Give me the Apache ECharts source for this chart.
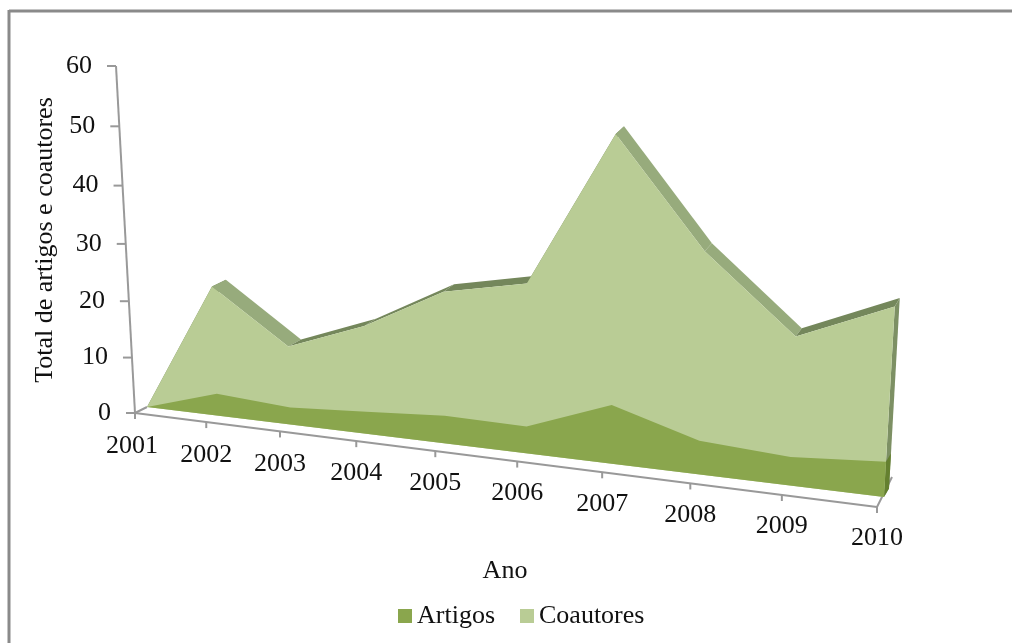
<!DOCTYPE html>
<html><head><meta charset="utf-8">
<style>html,body{margin:0;padding:0;background:#fff}#c{width:1012px;height:643px}</style>
<script src="https://cdn.jsdelivr.net/npm/echarts@6/dist/echarts.min.js"></script>
</head><body><div id="c"></div>
<script>
const years = ['2001','2002','2003','2004','2005','2006','2007','2008','2009','2010'];
const artigos = [0,3.9,3,3.8,4.7,4.5,9.6,5.4,4.5,5.5];
const coautores = [0,22.7,13.6,18.4,25.3,27.8,51.8,35,23.2,29];
const valueTicks = [0,10,20,30,40,50,60];

const QUAD = {A:[147,407],B:[884,497],C:[907,90],D:[128,60]};
const FONT = '"Liberation Serif","Times New Roman",serif';
const H = (function(){
  const [x0,y0]=QUAD.A,[x1,y1]=QUAD.B,[x2,y2]=QUAD.C,[x3,y3]=QUAD.D;
  const dx1=x1-x2,dx2=x3-x2,dx3=x0-x1+x2-x3,dy1=y1-y2,dy2=y3-y2,dy3=y0-y1+y2-y3;
  const den=dx1*dy2-dx2*dy1;
  const g=(dx3*dy2-dx2*dy3)/den,h=(dx1*dy3-dx3*dy1)/den;
  return {a:x1-x0+g*x1,b:x3-x0+h*x3,c:x0,d:y1-y0+g*y1,e:y3-y0+h*y3,f:y0,g,h};
})();
function depth(u,d){
  if(d>=0) return [(15-10*u)*d,-(6.5+2*u)*d];
  return [(12-5*u)*d,(6+4*u)*(-d)];
}
function proj(api,params,i,v,d){
  const cs=params.coordSys, p=api.coord([i,v]);
  const u=(p[0]-cs.x)/cs.width, w=(cs.y+cs.height-p[1])/cs.height;
  const q=H.g*u+H.h*w+1;
  const o=depth(u,d||0);
  return [(H.a*u+H.b*w+H.c)/q+o[0],(H.d*u+H.e*w+H.f)/q+o[1]];
}
function areaRenderer(values,faceColor,downColor,upColor,sideColor){
  return function(params,api){
    if(params.dataIndex!==0) return null;
    const kids=[], n=values.length;
    const F=(i,v)=>proj(api,params,i,v,0), B=(i,v)=>proj(api,params,i,v,1);
    for(let i=0;i<n-1;i++){
      const rising=values[i+1]>values[i];
      kids.push({type:'polygon',shape:{points:[F(i,values[i]),B(i,values[i]),B(i+1,values[i+1]),F(i+1,values[i+1])]},
        style:{fill:rising?upColor:downColor}});
    }
    kids.push({type:'polygon',shape:{points:[F(n-1,0),F(n-1,values[n-1]),B(n-1,values[n-1]),B(n-1,0)]},style:{fill:sideColor}});
    const pts=[F(0,0)];
    for(let i=0;i<n;i++) pts.push(F(i,values[i]));
    pts.push(F(n-1,0));
    kids.push({type:'polygon',shape:{points:pts},style:{fill:faceColor}});
    return {type:'group',children:kids};
  };
}
const AXIS='#999999';
function frameRenderer(params,api){
  if(params.dataIndex!==0) return null;
  const kids=[], n=years.length, P=(i,v,d)=>proj(api,params,i,v,d);
  const line=(a,b,w)=>({type:'line',shape:{x1:a[0],y1:a[1],x2:b[0],y2:b[1]},style:{stroke:AXIS,lineWidth:w||2}});
  kids.push(line(P(0,0,-1),P(0,60,-1)));
  kids.push(line(P(0,0,-1),P(n-1,0,-1)));
  kids.push(line(P(0,0,-1),P(0,0,0)));
  const r=P(n-1,0,-1);
  kids.push(line(r,[r[0]+15,r[1]-30]));
  valueTicks.forEach(v=>{
    const p=P(0,v,-1);
    kids.push(line([p[0]-9,p[1]],p));
    kids.push({type:'text',style:{text:String(v),x:p[0]-24,y:p[1],align:'right',verticalAlign:'middle',font:'26px '+FONT,fill:'#111'}});
  });
  years.forEach((y,i)=>{
    const p=P(i,0,-1);
    kids.push(line(p,[p[0],p[1]+6]));
    kids.push({type:'text',style:{text:y,x:p[0]-(i===0?3:0),y:p[1]+33-2*i/9,align:'center',verticalAlign:'middle',font:'26px '+FONT,fill:'#111'}});
  });
  return {type:'group',children:kids};
}
const idx=years.map((y,i)=>i);
const chart=echarts.init(document.getElementById('c'),null,{renderer:'canvas'});
chart.setOption({
  animation:false,
  backgroundColor:'#fff',
  grid:{left:100,right:100,top:60,bottom:140},
  xAxis:{type:'value',min:0,max:9,show:false},
  yAxis:{type:'value',min:0,max:60,interval:10,show:false},
  legend:{left:393,top:598,itemWidth:14,itemHeight:14,itemGap:25,icon:'rect',selectedMode:false,
    data:['Artigos','Coautores'],textStyle:{fontFamily:FONT,fontSize:26,color:'#111',padding:[0,0,0,0]}},
  graphic:[
    {type:'line',silent:true,shape:{x1:9,y1:11,x2:1012,y2:11},style:{stroke:'#8a8a8a',lineWidth:3}},
    {type:'line',silent:true,shape:{x1:9,y1:10,x2:9,y2:643},style:{stroke:'#8a8a8a',lineWidth:3}},
    {type:'text',silent:true,style:{text:'Ano',x:505,y:571,align:'center',verticalAlign:'middle',font:'26px '+FONT,fill:'#111'}},
    {type:'text',silent:true,rotation:Math.PI/2,x:45,y:240,style:{text:'Total de artigos e coautores',x:0,y:0,align:'center',verticalAlign:'middle',font:'26px '+FONT,fill:'#111'}}
  ],
  series:[
    {type:'custom',name:'Eixos',z:1,silent:true,data:idx.map(i=>[i,0]),renderItem:frameRenderer,encode:{x:0,y:1},clip:false},
    {type:'custom',name:'Coautores',z:2,silent:true,itemStyle:{color:'#b9cc95'},data:coautores.map((v,i)=>[i,v]),encode:{x:0,y:1},clip:false,
      renderItem:areaRenderer(coautores,'#b9cc95','#97ab7c','#74875b','#7d9064')},
    {type:'custom',name:'Artigos',z:3,silent:true,itemStyle:{color:'#8aa64d'},data:artigos.map((v,i)=>[i,v]),encode:{x:0,y:1},clip:false,
      renderItem:function(params,api){
        if(params.dataIndex!==0) return null;
        const n=artigos.length, F=(i,v)=>proj(api,params,i,v,0), B=(i,v)=>proj(api,params,i,v,1);
        const pts=[F(0,0)];
        for(let i=0;i<n;i++) pts.push(F(i,artigos[i]));
        pts.push(F(n-1,0));
        return {type:'group',children:[
          {type:'polygon',shape:{points:[F(n-1,0),F(n-1,artigos[n-1]),B(n-1,artigos[n-1]),B(n-1,0)]},style:{fill:'#64802f'}},
          {type:'polygon',shape:{points:pts},style:{fill:'#8aa64d'}}
        ]};
      }}
  ]
});
</script></body></html>
